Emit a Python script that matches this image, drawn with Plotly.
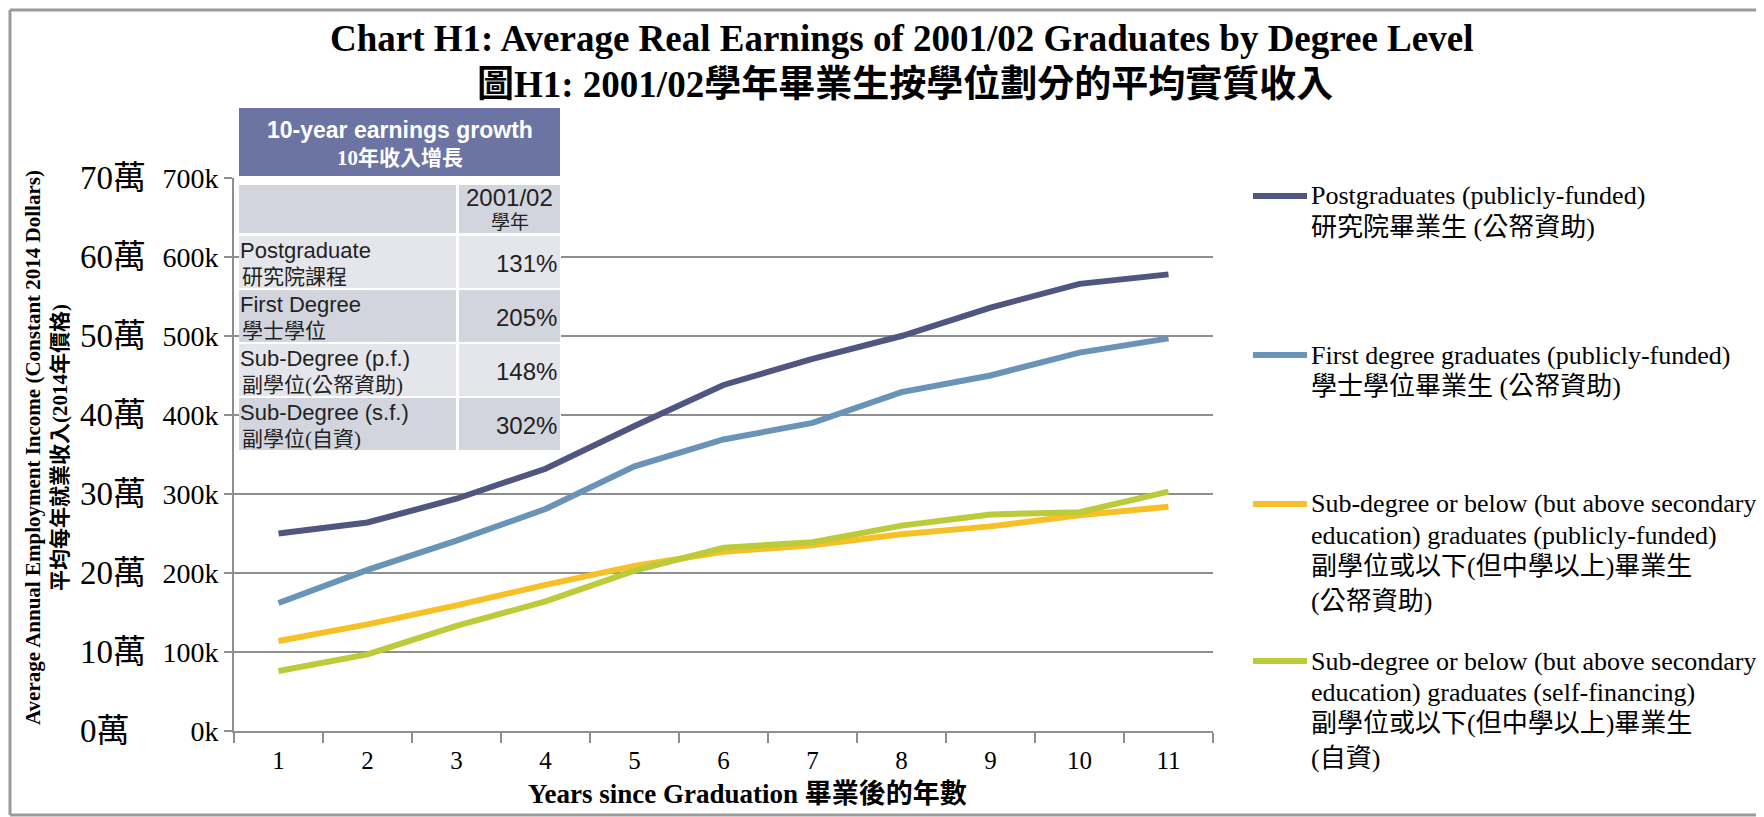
import plotly.graph_objects as go

# ---------------- data ----------------
years = ["1", "2", "3", "4", "5", "6", "7", "8", "9", "10", "11"]
postgrad = [250000, 264000, 294000, 332000, 386000, 438000, 471000, 500000, 536000, 566000, 578000]
first_degree = [162000, 204000, 241000, 281000, 335000, 369000, 390000, 429000, 450000, 479000, 497000]
sub_pf = [114000, 135000, 159000, 185000, 209000, 227000, 235000, 249000, 259000, 273000, 284000]
sub_sf = [76000, 97000, 133000, 164000, 203000, 232000, 239000, 260000, 274000, 277000, 303000]

y_tickvals = [0, 100000, 200000, 300000, 400000, 500000, 600000, 700000]
y_ticktext_k = ["0k", "100k", "200k", "300k", "400k", "500k", "600k", "700k"]
y_ticktext_wan = ["0萬", "10萬", "20萬", "30萬", "40萬", "50萬", "60萬", "70萬"]

series_names = [
    "Postgraduates (publicly-funded)<br>研究院畢業生 (公帑資助)",
    "First degree graduates (publicly-funded)<br>學士學位畢業生 (公帑資助)",
    "Sub-degree or below (but above secondary<br>education) graduates (publicly-funded)<br>副學位或以下(但中學以上)畢業生<br>(公帑資助)",
    "Sub-degree or below (but above secondary<br>education) graduates (self-financing)<br>副學位或以下(但中學以上)畢業生<br>(自資)",
]
series_colors = ["#4f5680", "#6a93b8", "#f6c026", "#bccb3a"]

table_title_en = "10-year earnings growth"
table_title_zh = "10年收入增長"
table_col_header_en = "2001/02"
table_col_header_zh = "學年"
table_rows_en = ["Postgraduate", "First Degree", "Sub-Degree (p.f.)", "Sub-Degree (s.f.)"]
table_rows_zh = ["研究院課程", "學士學位", "副學位(公帑資助)", "副學位(自資)"]
table_growth = ["131%", "205%", "148%", "302%"]

title_en = "Chart H1: Average Real Earnings of 2001/02 Graduates by Degree Level"
title_zh = "圖H1: 2001/02學年畢業生按學位劃分的平均實質收入"
x_title = "Years since Graduation 畢業後的年數"
y_title = "Average Annual Employment Income (Constant 2014 Dollars)<br>平均每年就業收入(2014年價格)"

# ---------------- layout geometry (reference pixels) ----------------
W, H = 1764, 817
OFF = 8  # page body margin offset
L, R, T, B = 234, 1213, 178, 731


def px(x):
    return (x - L) / (R - L)


def py(y):
    return (B - y) / (B - T)


def has_cjk(s):
    return any(ord(c) > 0x2E80 for c in s)


SERIF = "Liberation Serif, Times New Roman, Noto Sans CJK TC, serif"
SANS = "Liberation Sans, Arial, Noto Sans CJK TC, sans-serif"
GRID = "#8e8e8e"

fig = go.Figure()
all_series = [postgrad, first_degree, sub_pf, sub_sf]
for vals, name, col in zip(all_series, series_names, series_colors):
    fig.add_trace(go.Scatter(x=years, y=vals, mode="lines", name=name.replace("<br>", " "),
                             line=dict(color=col, width=6), showlegend=False,
                             hoverinfo="x+y"))

shapes = []
annotations = []

# frame (left, top, bottom)
FR = dict(color="#9a9a9a", width=3)
shapes.append(dict(type="line", xref="paper", yref="paper",
                   x0=px(10), x1=px(10), y0=py(10), y1=py(815), line=FR, layer="below"))
shapes.append(dict(type="line", xref="paper", yref="paper",
                   x0=px(10), x1=px(1790), y0=py(10), y1=py(10), line=FR, layer="below"))
shapes.append(dict(type="line", xref="paper", yref="paper",
                   x0=px(10), x1=px(1790), y0=py(815), y1=py(815), line=FR, layer="below"))

# titles
annotations.append(dict(text="<b>" + title_en + "</b>", xref="paper", yref="paper",
                        x=px(901), y=py(38), xanchor="center", yanchor="middle",
                        showarrow=False, font=dict(family=SERIF, size=37, color="black")))
annotations.append(dict(text="<b>" + title_zh + "</b>", xref="paper", yref="paper",
                        x=px(905), y=py(84), xanchor="center", yanchor="middle",
                        showarrow=False, font=dict(family=SERIF, size=37, color="black")))

# axis titles
annotations.append(dict(text="<b>" + x_title + "</b>", xref="paper", yref="paper",
                        x=px(747), y=py(794), xanchor="center", yanchor="middle",
                        showarrow=False, font=dict(family=SERIF, size=27, color="black")))
annotations.append(dict(text="<b>" + y_title + "</b>", xref="paper", yref="paper",
                        x=px(46), y=py(448), xanchor="center", yanchor="middle",
                        textangle=-90, showarrow=False,
                        font=dict(family=SERIF, size=21, color="black")))

# secondary (萬) tick labels
for v, t in zip(y_tickvals, y_ticktext_wan):
    annotations.append(dict(text=t, xref="paper", yref="y", x=px(78), y=v,
                            xanchor="left", yanchor="middle", showarrow=False,
                            font=dict(family=SERIF, size=33, color="black")))

# legend (custom, to match spacing)
legend_first_line_y = [196, 355, 504, 661]
for name, col, yc in zip(series_names, series_colors, legend_first_line_y):
    shapes.append(dict(type="line", xref="paper", yref="paper",
                       x0=px(1253), x1=px(1307), y0=py(yc), y1=py(yc),
                       line=dict(color=col, width=6), layer="above"))
    yy = yc
    prev = None
    for line_txt in name.split("<br>"):
        if prev is not None:
            yy += 35 if has_cjk(prev) else 31
        annotations.append(dict(text=line_txt, xref="paper", yref="paper",
                                x=px(1309), y=py(yy), xanchor="left", yanchor="middle",
                                align="left", showarrow=False,
                                font=dict(family=SERIF, size=26, color="black")))
        prev = line_txt

# inset table
TX0, TX1, TSPLIT0, TSPLIT1 = 239, 560, 456, 459
DARK, LIGHT, HEAD = "#d2d5de", "#e5e6ec", "#6b74a3"
shapes.append(dict(type="rect", xref="paper", yref="paper",
                   x0=px(TX0), x1=px(TX1 + 1), y0=py(176), y1=py(456),
                   fillcolor="white", line=dict(width=0), layer="above"))
shapes.append(dict(type="rect", xref="paper", yref="paper",
                   x0=px(TX0), x1=px(TX1), y0=py(108), y1=py(176),
                   fillcolor=HEAD, line=dict(width=0), layer="above"))
annotations.append(dict(text="<b>" + table_title_en + "</b>", xref="paper", yref="paper",
                        x=px((TX0 + TX1) / 2), y=py(130), xanchor="center", yanchor="middle",
                        showarrow=False, font=dict(family=SANS, size=23, color="white")))
annotations.append(dict(text="<b>" + table_title_zh + "</b>", xref="paper", yref="paper",
                        x=px((TX0 + TX1) / 2), y=py(158), xanchor="center", yanchor="middle",
                        showarrow=False, font=dict(family=SERIF, size=21, color="white")))

row_bounds = [(185, 233), (236, 288), (290, 342), (344, 396), (398, 450)]
row_fills = [DARK, LIGHT, DARK, LIGHT, DARK]
for (y0, y1), f in zip(row_bounds, row_fills):
    shapes.append(dict(type="rect", xref="paper", yref="paper",
                       x0=px(TX0), x1=px(TSPLIT0), y0=py(y0), y1=py(y1),
                       fillcolor=f, line=dict(width=0), layer="above"))
    shapes.append(dict(type="rect", xref="paper", yref="paper",
                       x0=px(TSPLIT1), x1=px(TX1), y0=py(y0), y1=py(y1),
                       fillcolor=f, line=dict(width=0), layer="above"))

annotations.append(dict(text=table_col_header_en, xref="paper", yref="paper",
                        x=px((TSPLIT1 + TX1) / 2), y=py(197), xanchor="center", yanchor="middle",
                        showarrow=False, font=dict(family=SANS, size=24, color="#222")))
annotations.append(dict(text=table_col_header_zh, xref="paper", yref="paper",
                        x=px((TSPLIT1 + TX1) / 2), y=py(222), xanchor="center", yanchor="middle",
                        showarrow=False, font=dict(family=SERIF, size=19, color="#222")))

for (y0, y1), en, zh, g in zip(row_bounds[1:], table_rows_en, table_rows_zh, table_growth):
    annotations.append(dict(text=en, xref="paper", yref="paper",
                            x=px(TX0 - 1), y=py(y0 + 14), xanchor="left", yanchor="middle",
                            showarrow=False, font=dict(family=SANS, size=22, color="#222")))
    annotations.append(dict(text=zh, xref="paper", yref="paper",
                            x=px(TX0 + 1), y=py(y0 + 41), xanchor="left", yanchor="middle",
                            showarrow=False, font=dict(family=SERIF, size=21, color="#222")))
    annotations.append(dict(text=g, xref="paper", yref="paper",
                            x=px(TX1 - 1), y=py((y0 + y1) / 2 + 1), xanchor="right", yanchor="middle",
                            showarrow=False, font=dict(family=SANS, size=24, color="#222")))

fig.update_layout(
    width=W, height=H,
    margin=dict(l=L - OFF, r=W - R + OFF, t=T - OFF, b=H - B + OFF, autoexpand=False),
    paper_bgcolor="white", plot_bgcolor="white",
    shapes=shapes, annotations=annotations,
    showlegend=False,
    xaxis=dict(type="category", tickson="boundaries", showgrid=False,
               range=[-0.5, len(years) - 0.5],
               showline=True, linecolor=GRID, linewidth=2,
               ticks="outside", ticklen=10, tickcolor=GRID, tickwidth=1.5,
               tickfont=dict(family=SERIF, size=25, color="black"),
               ticklabelstandoff=6, zeroline=False),
    yaxis=dict(range=[0, 700000], tickvals=y_tickvals, ticktext=y_ticktext_k,
               showgrid=True, gridcolor=GRID, gridwidth=1.5,
               showline=True, linecolor=GRID, linewidth=2,
               ticks="outside", ticklen=8, tickcolor=GRID, tickwidth=1.5,
               tickfont=dict(family=SERIF, size=28, color="black"),
               zeroline=False),
)

fig.write_html("out.html")
